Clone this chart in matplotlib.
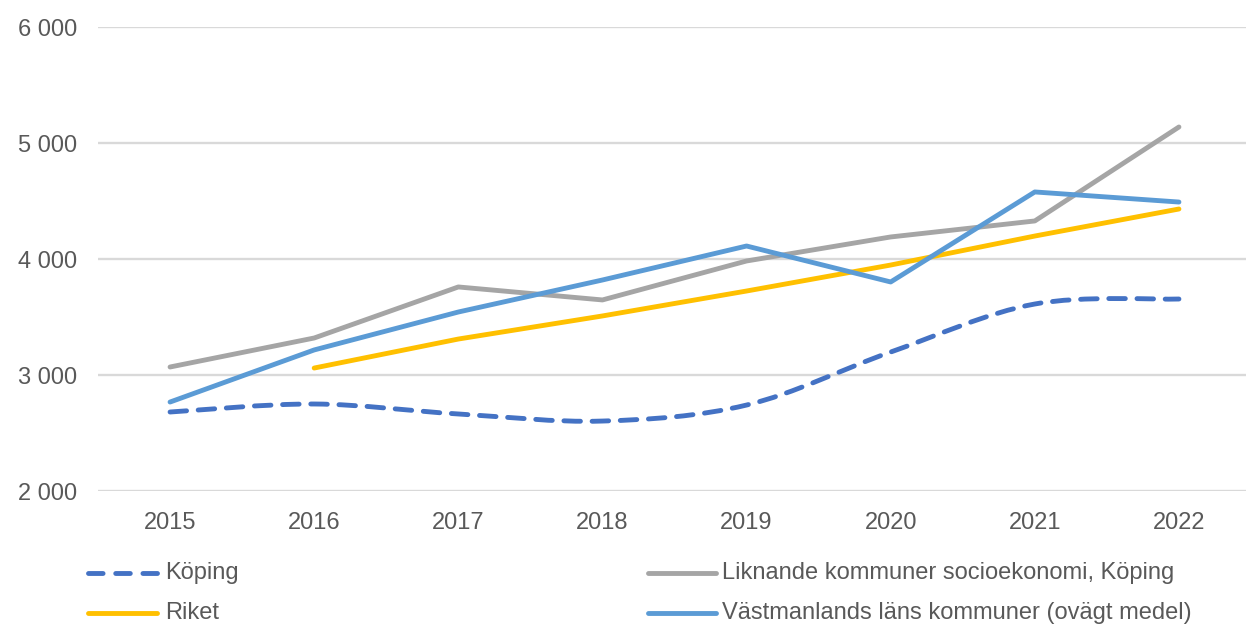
import matplotlib
matplotlib.use("Agg")
import matplotlib.pyplot as plt
from matplotlib.path import Path
from matplotlib.patches import PathPatch
from matplotlib.lines import Line2D
from matplotlib.ticker import FuncFormatter

years = [2015, 2016, 2017, 2018, 2019, 2020, 2021, 2022]
koping = [2681, 2750, 2664, 2603, 2741, 3198, 3612, 3655]
liknande = [3069, 3319, 3759, 3647, 3983, 4190, 4328, 5138]
riket_years = [2016, 2017, 2018, 2019, 2020, 2021, 2022]
riket = [3060, 3310, 3509, 3724, 3948, 4198, 4431]
vastmanland = [2767, 3216, 3543, 3819, 4112, 3802, 4578, 4491]

labels = ["Köping", "Liknande kommuner socioekonomi, Köping",
          "Riket", "Västmanlands läns kommuner (ovägt medel)"]
colors = {"koping": "#4472C4", "liknande": "#A5A5A5",
          "riket": "#FFC000", "vast": "#5B9BD5"}

plt.rcParams['font.family'] = ['Liberation Sans', 'DejaVu Sans']
W, H = 1246, 628
fig = plt.figure(figsize=(W / 100, H / 100), dpi=100)
ax = fig.add_axes([98 / W, (H - 491) / H, (1251 - 98) / W, (491 - 27) / H])

lw = 3.5
ax.plot(years, liknande, color=colors["liknande"], lw=lw, solid_capstyle='round', solid_joinstyle='round', zorder=3)
ax.plot(riket_years, riket, color=colors["riket"], lw=lw, solid_capstyle='round', solid_joinstyle='round', zorder=4)
ax.plot(years, vastmanland, color=colors["vast"], lw=lw, solid_capstyle='round', solid_joinstyle='round', zorder=5)

# smoothed (Excel-style) curve for Köping
pts = list(zip(years, koping))
verts = [pts[0]]
codes = [Path.MOVETO]
n = len(pts)
for i in range(n - 1):
    p0 = pts[i - 1] if i > 0 else pts[i]
    p1 = pts[i]
    p2 = pts[i + 1]
    p3 = pts[i + 2] if i + 2 < n else pts[i + 1]
    c1 = (p1[0] + (p2[0] - p0[0]) / 6, p1[1] + (p2[1] - p0[1]) / 6)
    c2 = (p2[0] - (p3[0] - p1[0]) / 6, p2[1] - (p3[1] - p1[1]) / 6)
    verts += [c1, c2, p2]
    codes += [Path.CURVE4] * 3
patch = PathPatch(Path(verts, codes), facecolor='none', edgecolor=colors["koping"],
                  lw=lw, linestyle=(0, (3.4, 2.4)), capstyle='round', zorder=6)
ax.add_patch(patch)

ax.set_xlim(2014.5, 2022.5)
ax.set_ylim(2000, 6000)
ax.set_yticks([2000, 3000, 4000, 5000, 6000])
ax.yaxis.set_major_formatter(FuncFormatter(lambda v, p: f"{int(v):,}".replace(",", " ")))
ax.set_xticks(years)
ax.grid(axis='y', color='#D9D9D9', lw=1.7, zorder=0)
for s in ax.spines.values():
    s.set_visible(False)
ax.tick_params(axis='both', length=0, labelsize=17, labelcolor='#595959')
ax.tick_params(axis='y', pad=15)
ax.tick_params(axis='x', pad=15)

# legend
entries = [
    (88, 157, 165, 573, labels[0], colors["koping"], True),
    (648, 716, 722, 573, labels[1], colors["liknande"], False),
    (88, 157, 165, 613, labels[2], colors["riket"], False),
    (648, 716, 722, 613, labels[3], colors["vast"], False),
]
for x0, x1, tx, y, lab, c, dashed in entries:
    yy = (H - y) / H
    ln = Line2D([x0 / W, x1 / W], [yy, yy], transform=fig.transFigure, color=c, lw=lw,
                solid_capstyle='round', dash_capstyle='round',
                linestyle=(0, (3.0, 2.6)) if dashed else '-')
    fig.add_artist(ln)
    fig.text(tx / W, yy, lab, fontsize=17, color='#595959', va='center', ha='left')

fig.savefig("out.png", dpi=100)
